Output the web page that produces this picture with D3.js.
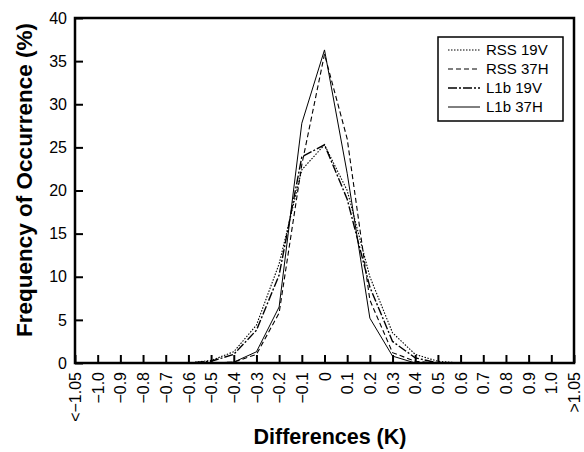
<!DOCTYPE html>
<html>
<head>
<meta charset="utf-8">
<script src="https://cdn.jsdelivr.net/npm/d3@7"></script>
<style>
  html, body { margin: 0; padding: 0; background: #fff; }
  svg { display: block; }
</style>
</head>
<body>
<div id="chart"></div>
<script>
// ── Data ─────────────────────────────────────
const CATEGORIES = ["<\u22121.05","\u22121.0","\u22120.9","\u22120.8","\u22120.7","\u22120.6",
  "\u22120.5","\u22120.4","\u22120.3","\u22120.2","\u22120.1","0",
  "0.1","0.2","0.3","0.4","0.5","0.6","0.7","0.8","0.9","1.0",">1.05"];

const RSS_19V = [0,0,0,0,0,0, 0.3,1.3,4.4,11.5,22.4,25.3, 20.0,10.0,3.5,1.0,0.2,0,0,0,0,0,0];
const RSS_37H = [0,0,0,0,0,0, 0,0.1,1.0,5.8,23.0,35.8, 26.0,7.3,1.2,0.2,0,0,0,0,0,0,0];
const L1B_19V = [0,0,0,0,0,0, 0.2,1.0,3.8,10.2,23.9,25.3, 19.0,8.8,2.5,0.6,0,0,0,0,0,0,0];
const L1B_37H = [0,0,0,0,0,0, 0,0.1,1.3,6.5,27.8,36.3, 22.0,5.2,0.8,0,0,0,0,0,0,0,0];

const Y_TICKS = [0,5,10,15,20,25,30,35,40];

const SERIES = [
  { name: "RSS 19V", values: RSS_19V, dash: "1.5,1.5", width: 1.1 },
  { name: "RSS 37H", values: RSS_37H, dash: "5,3",     width: 1.1 },
  { name: "L1b 19V", values: L1B_19V, dash: "9,2,2,2", width: 1.4 },
  { name: "L1b 37H", values: L1B_37H, dash: null,      width: 1.0 }
];

// ── Layout ───────────────────────────────────
const W = 584, H = 452;
const plot = { left: 75, right: 574, top: 18, bottom: 363 };
const FONT = "'Liberation Sans', Arial, Helvetica, sans-serif";

const svg = d3.select("#chart").append("svg")
  .attr("width", W).attr("height", H);

const x = d3.scalePoint().domain(CATEGORIES).range([plot.left, plot.right]);
const y = d3.scaleLinear().domain([0, 40]).range([plot.bottom, plot.top]);

// ── Axes ─────────────────────────────────────
const xAxis = svg.append("g")
  .attr("transform", `translate(0,${plot.bottom})`)
  .call(d3.axisBottom(x).tickSizeInner(-8).tickSizeOuter(0).tickPadding(0));
xAxis.select(".domain").remove();
xAxis.selectAll(".tick line").attr("stroke", "#000").attr("stroke-width", 2);
xAxis.selectAll(".tick text")
  .attr("font-family", FONT).attr("font-size", "16px").attr("fill", "#000")
  .attr("text-anchor", "end")
  .attr("transform", "rotate(-90)")
  .attr("x", -9).attr("y", 0).attr("dy", "0.35em");

const yAxis = svg.append("g")
  .attr("transform", `translate(${plot.left},0)`)
  .call(d3.axisLeft(y).tickValues(Y_TICKS).tickSizeInner(-8).tickSizeOuter(0).tickPadding(8));
yAxis.select(".domain").remove();
yAxis.selectAll(".tick line").attr("stroke", "#000").attr("stroke-width", 2);
yAxis.selectAll(".tick text")
  .attr("font-family", FONT).attr("font-size", "16px").attr("fill", "#000");

// frame
svg.append("rect")
  .attr("x", plot.left).attr("y", plot.top)
  .attr("width", plot.right - plot.left).attr("height", plot.bottom - plot.top)
  .attr("fill", "none").attr("stroke", "#000").attr("stroke-width", 2.5);

// ── Lines ────────────────────────────────────
const line = d3.line()
  .x((d, i) => x(CATEGORIES[i]))
  .y(d => y(d));

SERIES.forEach(s => {
  svg.append("path")
    .datum(s.values)
    .attr("fill", "none")
    .attr("stroke", "#000")
    .attr("stroke-width", s.width)
    .attr("stroke-dasharray", s.dash)
    .attr("d", line);
});

// ── Titles ───────────────────────────────────
svg.append("text")
  .attr("x", 330).attr("y", 444)
  .attr("text-anchor", "middle")
  .attr("font-family", FONT).attr("font-weight", "bold").attr("font-size", "21.5px")
  .text("Differences (K)");

svg.append("text")
  .attr("transform", "translate(32,180) rotate(-90)")
  .attr("text-anchor", "middle")
  .attr("font-family", FONT).attr("font-weight", "bold").attr("font-size", "22.5px")
  .text("Frequency of Occurrence (%)");

// ── Legend ───────────────────────────────────
const legend = svg.append("g").attr("transform", "translate(438,37)");
legend.append("rect")
  .attr("width", 125).attr("height", 84)
  .attr("fill", "#fff").attr("stroke", "#000").attr("stroke-width", 1.5);

SERIES.forEach((s, i) => {
  const ly = 13 + i * 19;
  legend.append("line")
    .attr("x1", 10).attr("x2", 42).attr("y1", ly).attr("y2", ly)
    .attr("stroke", "#000").attr("stroke-width", s.width)
    .attr("stroke-dasharray", s.dash);
  legend.append("text")
    .attr("x", 48).attr("y", ly).attr("dy", "0.35em")
    .attr("font-family", FONT).attr("font-size", "15px")
    .text(s.name);
});
</script>
</body>
</html>
